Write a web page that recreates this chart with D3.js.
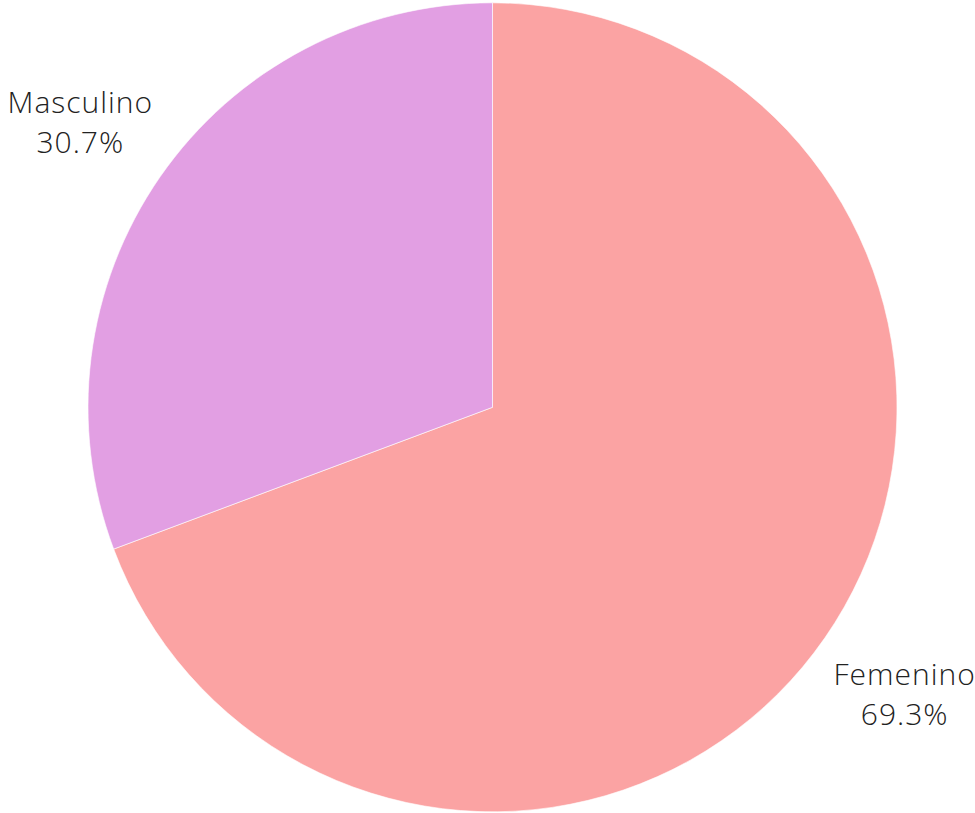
<!DOCTYPE html>
<html><head><meta charset="utf-8">
<script src="https://cdn.jsdelivr.net/npm/d3@7"></script>
<style>html,body{margin:0;padding:0;background:#fff;}svg{display:block;}</style>
</head><body>
<script>
const categories = ["Femenino", "Masculino"];
const values = [69.3, 30.7];
const colors = ["#FBA3A3", "#E29FE3"];

const W = 975, H = 813;
const cx = 492.5, cy = 407.3, r = 404.5;
const svg = d3.select("body").append("svg").attr("width", W).attr("height", H);
const g = svg.append("g").attr("transform", `translate(${cx},${cy})`);
const data = categories.map((c, i) => ({cat: c, val: values[i], col: colors[i]}));
const pie = d3.pie().value(d => d.val).sort(null);
const arcs = pie(data);
const arc = d3.arc().innerRadius(0).outerRadius(r);
g.selectAll("path").data(arcs).join("path")
  .attr("d", arc).attr("fill", d => d.data.col)
  .attr("stroke", "#fff").attr("stroke-width", 0.6);
const lr = r * 1.24;
const lab = g.selectAll("text").data(arcs).join("text")
  .attr("transform", d => { const a = (d.startAngle + d.endAngle) / 2; return `translate(${Math.sin(a)*lr},${-Math.cos(a)*lr})`; })
  .attr("text-anchor", "middle")
  .style("font-family", "'Open Sans', Lato, sans-serif")
  .style("font-weight", 300)
  .style("letter-spacing", "1px")
  .style("font-size", "30px").style("fill", "#222");
lab.append("tspan").attr("x", 0).attr("y", -8).text(d => d.data.cat);
lab.append("tspan").attr("x", 0).attr("y", 32).text(d => d.data.val.toFixed(1) + "%");
</script>
</body></html>
